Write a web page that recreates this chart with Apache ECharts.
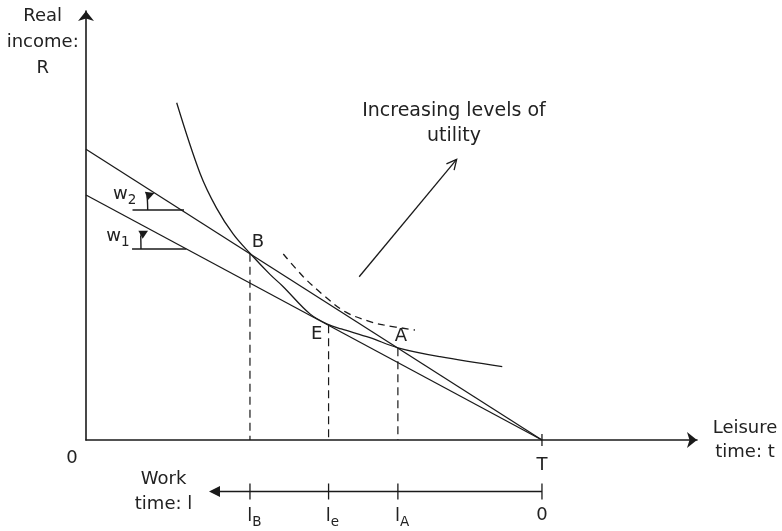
<!DOCTYPE html>
<html><head><meta charset="utf-8">
<script src="https://cdn.jsdelivr.net/npm/echarts@6/dist/echarts.min.js"></script>
<style>html,body{margin:0;padding:0;background:#fff}#c{width:782px;height:531px}</style>
</head><body><div id="c"></div>
<script>
// ---- data (leisure time t, real income R) ----
const leisureT = 10;                       // total time T on the leisure axis
const wageNames = ['2', '1'];              // w2 (steeper), w1 (flatter)
const wageIntercepts = [6.776, 5.711];     // R at t = 0 for each budget line (ends at (T,0))
const u1Curve = [[1.989,7.862],[2.5,6.22],[2.866,5.40],[3.23,4.80],[3.596,4.352],[4.035,3.86],[4.32,3.58],[4.912,2.94],[5.32,2.69],[5.6,2.59],[6.228,2.385],[6.84,2.15],[7.763,1.942],[9.129,1.709]];
const u2Curve = [[4.327,4.336],[4.765,3.807],[5.204,3.38],[5.68,2.991],[6.228,2.758],[6.52,2.681],[7.215,2.564]];
const pointNames = ['B', 'E', 'A'];
const pointT = [3.596, 5.32, 6.84];
const pointOnWage = [0, 1, 0];             // index into wageIntercepts
const workSubs = ['B', 'e', 'A'];          // l_B, l_e, l_A

const INK = '#1a1a1a', TXT = '#222', FONT = 'DejaVu Sans';
const budget = i => [[0, wageIntercepts[i]], [leisureT, 0]];
const onWage = (i, t) => wageIntercepts[i] * (1 - t / leisureT);
const pointR = pointT.map((t, k) => onWage(pointOnWage[k], t));

function arrowRender(filled, headLen, halfW, lw) {
  return function (params, api) {
    const a = api.coord([api.value(0), api.value(1)]);
    const b = api.coord([api.value(2), api.value(3)]);
    const dx = b[0] - a[0], dy = b[1] - a[1], L = Math.hypot(dx, dy), ux = dx / L, uy = dy / L;
    const bx = b[0] - ux * headLen, by = b[1] - uy * headLen, nx = -uy, ny = ux;
    const kids = [{type: 'line', shape: {x1: a[0], y1: a[1], x2: filled ? bx : b[0], y2: filled ? by : b[1]}, style: {stroke: INK, lineWidth: lw}}];
    if (filled) kids.push({type: 'polygon', shape: {points: [b, [bx + nx * halfW, by + ny * halfW], [bx - nx * halfW, by - ny * halfW]]}, style: {fill: INK}});
    else kids.push({type: 'polyline', shape: {points: [[bx + nx * halfW, by + ny * halfW], b, [bx - nx * halfW, by - ny * halfW]]}, style: {stroke: INK, lineWidth: lw, fill: null}});
    return {type: 'group', children: kids};
  };
}
function arcRender(params, api) {
  const p0 = api.coord([api.value(0), api.value(1)]);
  const pc = api.coord([api.value(2), api.value(3)]);
  const p1 = api.coord([api.value(4), api.value(5)]);
  const dx = p1[0] - pc[0], dy = p1[1] - pc[1], L = Math.hypot(dx, dy), ux = dx / L, uy = dy / L;
  const hl = 8.5, hw = 4.5, bx = p1[0] - ux * hl, by = p1[1] - uy * hl, nx = -uy, ny = ux;
  return {type: 'group', children: [
    {type: 'bezierCurve', shape: {x1: p0[0], y1: p0[1], x2: bx, y2: by, cpx1: pc[0], cpy1: pc[1]}, style: {stroke: INK, lineWidth: 1.4, fill: null}},
    {type: 'polygon', shape: {points: [p1, [bx + nx * hw, by + ny * hw], [bx - nx * hw, by - ny * hw]]}, style: {fill: INK}}
  ]};
}
function tickRender(half) {
  return function (params, api) {
    const p = api.coord([api.value(0), api.value(1)]);
    return {type: 'line', shape: {x1: p[0], y1: p[1] - half, x2: p[0], y2: p[1] + half}, style: {stroke: INK, lineWidth: 1.3}};
  };
}
function dropRender(params, api) {
  const p = api.coord([api.value(0), api.value(1)]);
  const q = api.coord([api.value(0), 0]);
  return {type: 'line', shape: {x1: p[0], y1: p[1], x2: q[0], y2: q[1]}, style: {stroke: INK, lineWidth: 1.2, lineDash: [8, 5]}};
}
const txtStyle = {fontFamily: FONT, fontSize: 18, color: TXT, opacity: 1, textBorderWidth: 0, textBorderColor: 'transparent', textShadowBlur: 0};
function textItem(x, y, text, extra) {
  return {value: [x, y], label: Object.assign({show: true, position: 'inside'}, txtStyle, {formatter: text}, extra || {})};
}
const subRich = {
  m: {fontFamily: FONT, fontSize: 18, color: TXT, lineHeight: 22, verticalAlign: 'middle', textBorderWidth: 0},
  s: {fontFamily: FONT, fontSize: 13.5, color: TXT, lineHeight: 13, verticalAlign: 'bottom', textBorderWidth: 0},
  pad: {lineHeight: 26}
};

const WORK_Y = -1.2;
const base = {animation: false, silent: true};
const textSeries = {symbolSize: 0, itemStyle: {opacity: 1, color: TXT}, emphasis: {disabled: true}};

const series = [
  // budget lines
  ...wageIntercepts.map((_, i) => Object.assign({type: 'line', name: 'w' + wageNames[i], data: budget(i), symbol: 'none', lineStyle: {color: INK, width: 1.3}, clip: false}, base)),
  // indifference curves
  Object.assign({type: 'line', name: 'U1', data: u1Curve, smooth: 0.35, symbol: 'none', lineStyle: {color: INK, width: 1.3}}, base),
  Object.assign({type: 'line', name: 'U2', data: u2Curve, smooth: 0.35, symbol: 'none', lineStyle: {color: INK, width: 1.3, type: [7, 5]}}, base),
  // dashed drop lines
  Object.assign({type: 'custom', name: 'drops', data: pointT.map((t, k) => [t, pointR[k]]), renderItem: dropRender}, base),
  // wage angle markers (horizontal reference lines)
  Object.assign({type: 'line', name: 'w2mark', data: [[1.02, 5.361], [2.15, 5.361]], symbol: 'none', lineStyle: {color: INK, width: 1.3}}, base),
  Object.assign({type: 'line', name: 'w1mark', data: [[1.01, 4.452], [2.2, 4.452]], symbol: 'none', lineStyle: {color: INK, width: 1.3}}, base),
  Object.assign({type: 'custom', name: 'arcs', data: [[1.353, 5.361, 1.350, 5.70, 1.50, 5.76], [1.206, 4.452, 1.203, 4.79, 1.36, 4.88]], renderItem: arcRender}, base),
  // increasing utility arrow
  Object.assign({type: 'custom', name: 'utilArrow', data: [[5.991, 3.806, 8.129, 6.543]], renderItem: arrowRender(false, 10, 5, 1.3)}, base),
  // tick at T on leisure axis
  Object.assign({type: 'custom', name: 'tickT', data: [[leisureT, 0]], renderItem: tickRender(6), clip: false}, base),
  // text inside main plot
  Object.assign({type: 'scatter', name: 'labels', data: [
    ...pointNames.map((n, k) => textItem(pointT[k], pointR[k], n, {offset: [[8, -12], [-12, 9], [3, -12]][k]})),
    textItem(8.07, 7.378, 'Increasing levels of\nutility', {lineHeight: 25, fontSize: 19}),
    textItem(0.85, 5.72, '{m|w}{s|' + wageNames[0] + '}{pad|}', {rich: subRich}),
    textItem(0.70, 4.74, '{m|w}{s|' + wageNames[1] + '}{pad|}', {rich: subRich}),
    textItem(0, 0, '0', {offset: [-14, 18]}),
    textItem(leisureT, 0, 'T', {offset: [0, 25]})
  ]}, textSeries, base),
  // work-time axis (grid 1)
  Object.assign({type: 'custom', name: 'workAxis', xAxisIndex: 1, yAxisIndex: 1, data: [[leisureT, WORK_Y, 2.697, WORK_Y]], renderItem: arrowRender(true, 11, 5.5, 1.5)}, base),
  Object.assign({type: 'custom', name: 'workTicks', xAxisIndex: 1, yAxisIndex: 1, data: [...pointT, leisureT].map(t => [t, WORK_Y]), renderItem: tickRender(8)}, base),
  Object.assign({type: 'scatter', name: 'workLabels', xAxisIndex: 1, yAxisIndex: 1, data: [
    ...pointT.map((t, k) => ({value: [t, WORK_Y], label: Object.assign({show: true, position: [-2.8, 25], align: 'left', verticalAlign: 'middle', formatter: '{m|l}{s|' + workSubs[k] + '}{pad|}', rich: subRich}, txtStyle)})),
    textItem(leisureT, WORK_Y, '0', {offset: [0, 24]}),
    textItem(1.7, WORK_Y, 'Work\ntime: l', {lineHeight: 25})
  ]}, textSeries, base)
];

const chart = echarts.init(document.getElementById('c'));
chart.setOption({
  backgroundColor: '#fff',
  animation: false,
  grid: [{left: 86, right: 85, top: 11, bottom: 91}, {left: 86, right: 85, top: 440, bottom: 0}],
  xAxis: [
    {gridIndex: 0, type: 'value', min: 0, max: 13.4,
      axisLine: {show: true, symbol: ['none', 'arrow'], symbolSize: [12, 10], lineStyle: {color: INK, width: 1.6}},
      axisTick: {show: false}, axisLabel: {show: false}, splitLine: {show: false},
      name: 'Leisure\ntime: t', nameLocation: 'end', nameGap: 48,
      nameTextStyle: {fontFamily: FONT, fontSize: 18, color: TXT, align: 'center', verticalAlign: 'middle', lineHeight: 24, padding: [4, 0, 0, 0]}},
    {gridIndex: 1, type: 'value', min: 0, max: 13.4, show: false}
  ],
  yAxis: [
    {gridIndex: 0, type: 'value', min: 0, max: 10,
      axisLine: {show: true, symbol: ['none', 'arrow'], symbolSize: [12, 10], lineStyle: {color: INK, width: 1.6}},
      axisTick: {show: false}, axisLabel: {show: false}, splitLine: {show: false}},
    {gridIndex: 1, type: 'value', min: -2.121, max: 0, show: false}
  ],
  graphic: [{type: 'text', x: 42.7, y: 42.7, style: {text: 'Real\nincome:\nR', fontFamily: FONT, fontSize: 18, fill: TXT, align: 'center', verticalAlign: 'middle', lineHeight: 26}}],
  series: series
});
</script></body></html>
